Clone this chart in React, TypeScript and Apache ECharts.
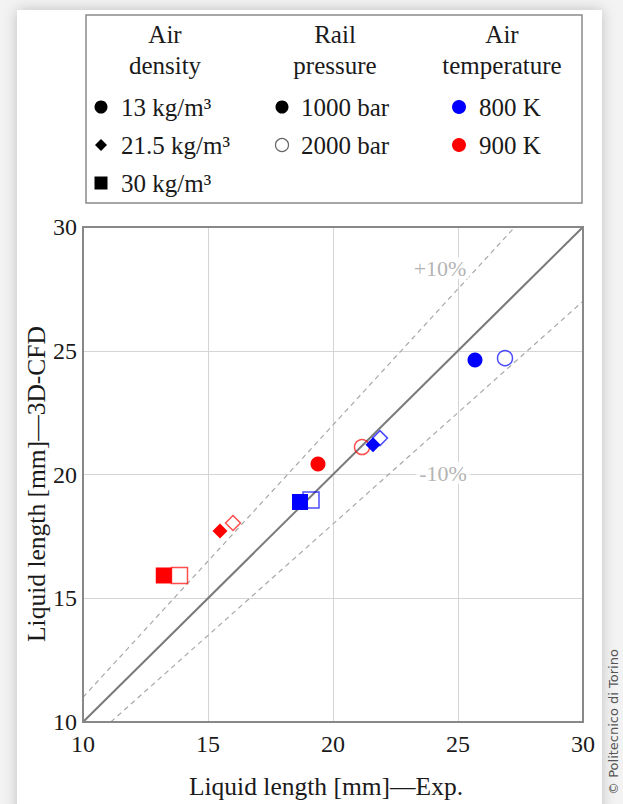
import React, { useEffect, useRef } from "react";
import * as echarts from "echarts";

// Liquid length: experiment (x) vs 3D-CFD (y)
const expLength = [13.23, 13.86, 15.48, 16.0, 19.4, 21.16, 18.68, 19.12, 21.6, 21.88, 25.68, 26.88];
const cfdLength = [15.92, 15.92, 17.72, 18.04, 20.42, 21.11, 18.89, 18.97, 21.2, 21.47, 24.63, 24.7];
const airDensity = [30, 30, 21.5, 21.5, 13, 13, 30, 30, 21.5, 21.5, 13, 13];
const railPressure = [1000, 2000, 1000, 2000, 1000, 2000, 1000, 2000, 1000, 2000, 1000, 2000];
const airTemperature = [900, 900, 900, 900, 900, 900, 800, 800, 800, 800, 800, 800];

const axisTicks = [10, 15, 20, 25, 30];
const bandFactors = [1.1, 0.9];
const bandLabels = ["+10%", "-10%"];
const bandLabelPos = [
  [24.28, 28.34],
  [24.4, 20.06],
];

const xTitle = "Liquid length [mm]—Exp.";
const yTitle = "Liquid length [mm]—3D-CFD";
const densityLabels = ["13 kg/m³", "21.5 kg/m³", "30 kg/m³"];
const pressureLabels = ["1000 bar", "2000 bar"];
const temperatureLabels = ["800 K", "900 K"];

const SERIF = "Liberation Serif";
const INK = "#1a1a1a";
const tempColor: Record<number, string> = { 800: "#0000ff", 900: "#ff0000" };
const densitySymbol: Record<number, string> = { 13: "circle", 21.5: "diamond", 30: "rect" };
const densitySize: Record<number, number> = { 13: 15, 21.5: 15, 30: 16 };

const AX_MIN = axisTicks[0];
const AX_MAX = axisTicks[axisTicks.length - 1];

function bandLine(f: number): number[][] {
  // segment of y = f*x clipped to the square [AX_MIN, AX_MAX]
  const x0 = Math.max(AX_MIN, AX_MIN / f);
  const x1 = Math.min(AX_MAX, AX_MAX / f);
  return [
    [x0, f * x0],
    [x1, f * x1],
  ];
}

export default function App() {
  const ref = useRef<HTMLDivElement>(null);

  useEffect(() => {
    if (!ref.current) return;
    const chart = echarts.init(ref.current, null, { renderer: "svg" });

    const points = expLength.map((x, i) => {
      const c = tempColor[airTemperature[i]];
      const filled = railPressure[i] === 1000;
      return {
        value: [x, cfdLength[i]],
        symbol: densitySymbol[airDensity[i]],
        symbolSize: densitySize[airDensity[i]],
        itemStyle: filled
          ? { color: c, borderColor: c, borderWidth: 0, opacity: 1 }
          : { color: "rgba(255,255,255,0)", borderColor: c, borderWidth: 1.5, opacity: 0.7 },
      };
    });

    const legendFont = { fontFamily: SERIF, fontSize: 25, fill: INK };
    const rowY = [107, 145, 183];

    const legendGraphics: any[] = [
      {
        type: "rect",
        shape: { x: 86, y: 15, width: 496, height: 188 },
        style: { fill: "#fff", stroke: "#8a8a8a", lineWidth: 1.5 },
        z: 10,
      },
      ...[
        ["Air\ndensity", 165],
        ["Rail\npressure", 335],
        ["Air\ntemperature", 502],
      ].map(([t, x]) => ({
        type: "text",
        x,
        y: 50,
        style: { ...legendFont, text: t, align: "center", verticalAlign: "middle", lineHeight: 31 },
        z: 11,
      })),
      // density markers
      { type: "circle", shape: { cx: 101, cy: rowY[0], r: 6.5 }, style: { fill: "#000" }, z: 11 },
      {
        type: "polygon",
        shape: { points: [[101, rowY[1] - 6], [107, rowY[1]], [101, rowY[1] + 6], [95, rowY[1]]] },
        style: { fill: "#000" },
        z: 11,
      },
      { type: "rect", shape: { x: 94.5, y: rowY[2] - 6.5, width: 13, height: 13 }, style: { fill: "#000" }, z: 11 },
      // pressure markers
      { type: "circle", shape: { cx: 282, cy: rowY[0], r: 6.5 }, style: { fill: "#000" }, z: 11 },
      {
        type: "circle",
        shape: { cx: 282, cy: rowY[1], r: 6.5 },
        style: { fill: "#fff", stroke: "#666", lineWidth: 1.2 },
        z: 11,
      },
      // temperature markers
      { type: "circle", shape: { cx: 459, cy: rowY[0], r: 7 }, style: { fill: tempColor[800] }, z: 11 },
      { type: "circle", shape: { cx: 459, cy: rowY[1], r: 7 }, style: { fill: tempColor[900] }, z: 11 },
    ];
    const addColumn = (labels: string[], x: number) =>
      labels.forEach((t, i) =>
        legendGraphics.push({
          type: "text",
          x,
          y: rowY[i],
          style: { ...legendFont, text: t, verticalAlign: "middle" },
          z: 11,
        })
      );
    addColumn(densityLabels, 121);
    addColumn(pressureLabels, 301);
    addColumn(temperatureLabels, 479);

    chart.setOption({
      animation: false,
      backgroundColor: "#f3f3f3",
      graphic: [
        {
          type: "rect",
          shape: { x: 17, y: 10, width: 585, height: 820 },
          style: { fill: "#ffffff", shadowBlur: 14, shadowColor: "rgba(0,0,0,0.22)" },
          z: -10,
          silent: true,
        },
        {
          type: "text",
          x: 613,
          y: 722,
          rotation: Math.PI / 2,
          style: {
            text: "© Politecnico di Torino",
            fontFamily: "DejaVu Sans",
            fontSize: 13,
            fill: "#555",
            align: "center",
            verticalAlign: "middle",
          },
          z: 1,
        },
        // axis titles
        {
          type: "text",
          x: 326,
          y: 786,
          style: { text: xTitle, fontFamily: SERIF, fontSize: 25.5, fill: INK, align: "center", verticalAlign: "middle" },
          z: 4,
        },
        {
          type: "text",
          x: 36,
          y: 484,
          rotation: Math.PI / 2,
          style: { text: yTitle, fontFamily: SERIF, fontSize: 25.5, fill: INK, align: "center", verticalAlign: "middle" },
          z: 4,
        },
        ...legendGraphics,
      ],
      grid: {
        left: 83,
        top: 227,
        width: 500,
        height: 495,
        show: true,
        backgroundColor: "transparent",
        borderColor: "#888",
        borderWidth: 2,
        z: 3,
      },
      xAxis: {
        type: "value",
        min: AX_MIN,
        max: AX_MAX,
        interval: 5,
        axisLine: { show: true, lineStyle: { color: "#888", width: 2 } },
        axisTick: { show: false },
        splitLine: { show: true, lineStyle: { color: "#d4d4d4", width: 1 } },
        axisLabel: { fontFamily: SERIF, fontSize: 24, color: INK, margin: 10 },
      },
      yAxis: {
        type: "value",
        min: AX_MIN,
        max: AX_MAX,
        interval: 5,
        axisLine: { show: true, lineStyle: { color: "#888", width: 2 } },
        axisTick: { show: false },
        splitLine: { show: true, lineStyle: { color: "#d4d4d4", width: 1 } },
        axisLabel: { fontFamily: SERIF, fontSize: 24, color: INK, margin: 6 },
      },
      series: [
        {
          type: "line",
          data: [
            [AX_MIN, AX_MIN],
            [AX_MAX, AX_MAX],
          ],
          symbol: "none",
          lineStyle: { color: "#7a7a7a", width: 2 },
          z: 2,
          silent: true,
        },
        ...bandFactors.map((f) => ({
          type: "line",
          data: bandLine(f),
          symbol: "none",
          lineStyle: { color: "#a8a8a8", width: 1.2, type: [5, 4] },
          z: 2,
          silent: true,
        })),
        {
          type: "scatter",
          data: bandLabelPos.map((p, i) => ({ value: p, name: bandLabels[i] })),
          symbolSize: 0,
          z: 3,
          label: {
            show: true,
            position: "inside",
            formatter: "{b}",
            fontFamily: SERIF,
            fontSize: 22,
            color: "#a0a0a0",
            backgroundColor: "#fff",
            padding: [0, 3],
          },
          silent: true,
        },
        {
          type: "scatter",
          data: points,
          z: 5,
          silent: true,
        },
      ],
    });

    return () => chart.dispose();
  }, []);

  return <div ref={ref} style={{ position: "fixed", left: 0, top: 0, width: 623, height: 804 }} />;
}
